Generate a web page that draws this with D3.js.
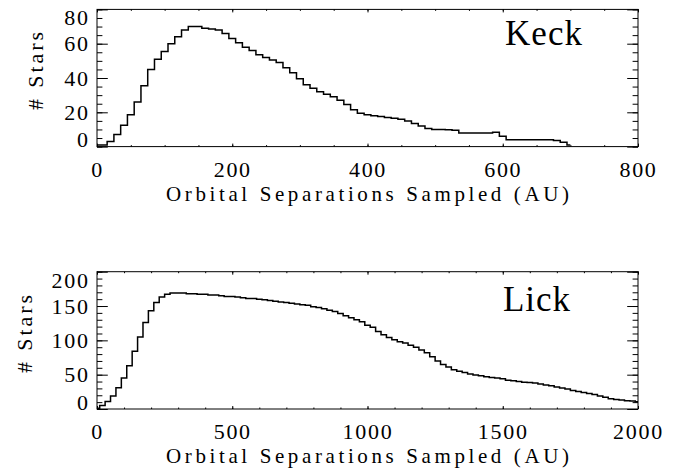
<!DOCTYPE html>
<html>
<head>
<meta charset="utf-8">
<script src="https://cdn.jsdelivr.net/npm/d3@7"></script>
<style>
  body { margin: 0; background: white; }
  text { font-family: 'Liberation Serif', serif; fill: black; }
</style>
</head>
<body>
<div class="box"></div>
<script>
// Keck histogram: bin centres every 10 AU, 0..700
const keckStep = 10;
const keckCounts = [
  1, 1, 3, 7, 12.5, 18.5, 26, 35.5, 45, 51,
  55.5, 60, 64, 68, 70, 70, 69, 68.5, 68, 66,
  63, 60.5, 58, 56, 53.5, 52, 50.5, 49, 46, 43,
  39.5, 36, 34, 32, 30.5, 29, 27, 24.5, 21.5, 19.5,
  18.5, 18, 17.5, 17, 16.5, 16, 15, 13.5, 12, 10.5,
  10, 10, 9.8, 9.5, 8, 8, 8, 8, 8, 8.3,
  6, 4, 4, 4, 4, 4, 4, 4, 3.5, 2.5,
  1
];
const keckXTicks = [0, 200, 400, 600, 800];
const keckYTicks = [0, 20, 40, 60, 80];

// Lick histogram: bin centres every 20 AU, 0..2000
const lickStep = 20;
const lickCounts = [
  1, 5, 11, 19, 31, 45, 63, 84, 105, 126,
  143, 155, 163, 167, 169, 169, 169, 168, 168, 167,
  167, 166, 166, 165, 164, 164, 163, 162, 161, 161,
  160, 159, 158, 157, 156, 155, 154, 153, 152, 151,
  149, 148, 146, 144, 142, 139, 136, 133, 130, 127,
  122, 119, 113, 108, 104, 101, 98, 96, 93, 90,
  86, 82, 76, 70, 65, 61, 57, 55, 53, 51,
  49.5, 48.5, 47, 46, 45, 44, 42, 41, 40, 39,
  38.5, 38, 36.5, 35, 34, 32, 30.5, 29, 27, 25.5,
  24, 22.5, 21, 19, 17, 15, 14, 13, 12, 11.5,
  10.5
];
const lickXTicks = [0, 500, 1000, 1500, 2000];
const lickYTicks = [0, 50, 100, 150, 200];

const xTitle = 'Orbital Separations Sampled (AU)';
const yTitle = '# Stars';

const svg = d3.select('.box')
              .append('svg')
              .attr('width', 683)
              .attr('height', 471)
              .style('background', 'white');

const left = 97, right = 638;

function panel(o) {
  const x = d3.scaleLinear().domain([o.xTicks[0], o.xTicks[o.xTicks.length - 1]]).range([left, right]);
  const y = d3.scaleLinear().domain([o.yTicks[0], o.yTicks[o.yTicks.length - 1]]).range([o.bottom, o.top]);
  const g = svg.append('g');
  const xMinor = d3.range(x.domain()[0], x.domain()[1] + 1e-6, o.xMinor);
  const yMinor = d3.range(y.domain()[0], y.domain()[1] + 1e-6, o.yMinor);
  const noDomain = s => s.select('.domain').remove();

  // minor ticks on all four sides
  g.append('g').attr('transform', `translate(0,${o.bottom})`)
   .call(d3.axisBottom(x).tickValues(xMinor).tickSize(-1.5).tickFormat('')).call(noDomain);
  g.append('g').attr('transform', `translate(0,${o.top})`)
   .call(d3.axisTop(x).tickValues(xMinor).tickSize(-1.5).tickFormat('')).call(noDomain);
  g.append('g').attr('transform', `translate(${left},0)`)
   .call(d3.axisLeft(y).tickValues(yMinor).tickSize(-5.4).tickFormat('')).call(noDomain);
  g.append('g').attr('transform', `translate(${right},0)`)
   .call(d3.axisRight(y).tickValues(yMinor).tickSize(-5.4).tickFormat('')).call(noDomain);

  // major ticks + labels
  g.append('g').attr('transform', `translate(0,${o.bottom})`)
   .call(d3.axisBottom(x).tickValues(o.xTicks).tickSize(-3).tickPadding(14.6).tickFormat(d3.format('d')))
   .call(noDomain);
  g.append('g').attr('transform', `translate(0,${o.top})`)
   .call(d3.axisTop(x).tickValues(o.xTicks).tickSize(-3).tickFormat('')).call(noDomain);
  const ly = g.append('g').attr('transform', `translate(${left},0)`)
   .call(d3.axisLeft(y).tickValues(o.yTicks).tickSize(-10.8).tickPadding(9).tickFormat(d3.format('d')))
   .call(noDomain);
  g.append('g').attr('transform', `translate(${right},0)`)
   .call(d3.axisRight(y).tickValues(o.yTicks).tickSize(-10.8).tickFormat('')).call(noDomain);

  g.selectAll('.tick line').attr('stroke', 'black');
  g.selectAll('.tick text')
   .style('font-size', '22px')
   .style('letter-spacing', '1.7px')
   .style('font-family', "'Liberation Serif', serif");

  // keep end labels inside the frame, as the reference does
  ly.selectAll('.tick').each(function(d) {
    const py = y(d);
    const c = Math.max(o.top + 8.5, Math.min(o.bottom - 7, py));
    d3.select(this).select('text').attr('y', c - py).attr('dx', '1.7px');
  });

  // frame
  g.append('rect')
   .attr('x', left).attr('y', o.top)
   .attr('width', right - left).attr('height', o.bottom - o.top)
   .attr('fill', 'none').attr('stroke', 'black').attr('stroke-width', 1);

  // histogram
  const line = d3.line()
    .x((d, i) => x(i * o.step))
    .y(d => y(d))
    .curve(d3.curveStep);
  g.append('path')
   .datum(o.counts)
   .attr('d', line)
   .attr('fill', 'none')
   .attr('stroke', 'black')
   .attr('stroke-width', 1.5);

  // titles
  g.append('text')
   .attr('x', (left + right) / 2).attr('y', o.bottom + 54.4)
   .attr('text-anchor', 'middle')
   .attr('textLength', 403).attr('lengthAdjust', 'spacing')
   .style('font-size', '21px')
   .text(xTitle);
  g.append('text')
   .attr('transform', `translate(${o.yTitleX},${o.yTitleY}) rotate(-90)`)
   .attr('text-anchor', 'middle')
   .attr('textLength', 78).attr('lengthAdjust', 'spacing')
   .style('font-size', '22px')
   .text(yTitle);
  g.append('text')
   .attr('x', o.nameX).attr('y', o.nameY)
   .attr('textLength', o.nameW).attr('lengthAdjust', 'spacing')
   .style('font-size', '35px')
   .text(o.name);
}

panel({
  top: 9.4, bottom: 146.6,
  xTicks: keckXTicks, yTicks: keckYTicks, xMinor: 50, yMinor: 5,
  counts: keckCounts, step: keckStep,
  yTitleX: 43, yTitleY: 71,
  name: 'Keck', nameX: 505, nameY: 45, nameW: 77
});

panel({
  top: 271.7, bottom: 409,
  xTicks: lickXTicks, yTicks: lickYTicks, xMinor: 100, yMinor: 10,
  counts: lickCounts, step: lickStep,
  yTitleX: 32, yTitleY: 334,
  name: 'Lick', nameX: 503, nameY: 311, nameW: 67
});
</script>
</body>
</html>
